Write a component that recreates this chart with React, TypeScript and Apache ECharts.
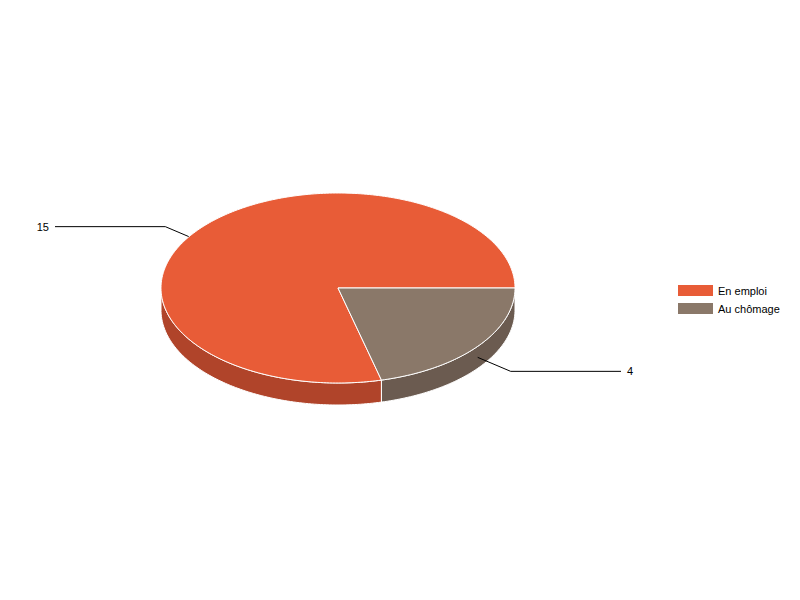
import React, { useEffect, useRef } from "react";
import * as echarts from "echarts";

const categories = ["En emploi", "Au chômage"];
const values = [15, 4];
const topColors = ["#E85C37", "#8A7869"];
const sideColors = ["#B0442A", "#6B5B50"];

const CX = 338;
const CY = 288;
const RX = 177;
const RY = 95;
const DEPTH = 22;
const FONT = "Liberation Sans, Arial, sans-serif";

function ellPt(tDeg: number, dy = 0): number[] {
  const t = (tDeg * Math.PI) / 180;
  return [CX + RX * Math.cos(t), CY + RY * Math.sin(t) + dy];
}

function arcPts(from: number, to: number, dy = 0): number[][] {
  const pts: number[][] = [];
  const n = Math.max(2, Math.ceil(Math.abs(to - from)));
  for (let k = 0; k <= n; k++) {
    pts.push(ellPt(from + ((to - from) * k) / n, dy));
  }
  return pts;
}

function makeRender(i: number) {
  return function renderItem() {
    const total = values.reduce((a, b) => a + b, 0);
    let before = 0;
    for (let k = 0; k < i; k++) before += values[k];
    const a0 = (-before / total) * 360;
    const a1 = (-(before + values[i]) / total) * 360;
    const lo = Math.min(a0, a1);
    const hi = Math.max(a0, a1);
    const children: any[] = [];
    // side faces (front half only)
    for (let k = -2; k <= 2; k++) {
      const s = Math.max(lo, k * 360);
      const e = Math.min(hi, k * 360 + 180);
      if (e > s) {
        const pts = arcPts(s, e).concat(arcPts(e, s, DEPTH));
        children.push({
          type: "polygon",
          shape: { points: pts },
          style: { fill: sideColors[i], stroke: "#ffffff", lineWidth: 1 },
        });
      }
    }
    // label + leader line (drawn beneath the top face)
    const mid = (a0 + a1) / 2;
    const rad = (mid * Math.PI) / 180;
    const anchor = ellPt(mid, DEPTH / 2);
    const dir = Math.cos(rad) >= 0 ? 1 : -1;
    const vdir = Math.sin(rad) >= 0 ? 1 : -1;
    const elbow = [anchor[0] + dir * 33, anchor[1] + vdir * 14];
    const end = [CX + dir * 283, elbow[1]];
    children.push({
      type: "polyline",
      shape: { points: [anchor, elbow, end] },
      style: { stroke: "#000000", lineWidth: 1, fill: null },
    });
    children.push({
      type: "text",
      style: {
        text: String(values[i]),
        x: end[0] + dir * 6,
        y: end[1],
        fill: "#000000",
        fontSize: 11,
        fontFamily: FONT,
        align: dir > 0 ? "left" : "right",
        verticalAlign: "middle",
      },
    });
    // top face
    const topPts = [[CX, CY]].concat(arcPts(a0, a1));
    children.push({
      type: "polygon",
      shape: { points: topPts },
      style: { fill: topColors[i], stroke: "#ffffff", lineWidth: 1, lineJoin: "round" },
    });
    return { type: "group", children };
  };
}

export default function App() {
  const ref = useRef<HTMLDivElement>(null);
  useEffect(() => {
    if (!ref.current) return;
    const chart = echarts.init(ref.current, null, { renderer: "svg" });
    chart.setOption({
      animation: false,
      backgroundColor: "#ffffff",
      legend: {
        orient: "vertical",
        left: 673,
        top: 280,
        itemWidth: 35,
        itemHeight: 11,
        itemGap: 7,
        icon: "rect",
        data: categories,
        textStyle: { fontSize: 11, fontFamily: FONT, color: "#000000" },
      },
      series: categories.map((name, i) => ({
        type: "custom",
        name,
        coordinateSystem: "none",
        itemStyle: { color: topColors[i] },
        data: [values[i]],
        renderItem: makeRender(i),
        silent: true,
      })),
    });
    return () => chart.dispose();
  }, []);
  return (
    <div
      ref={ref}
      style={{ position: "fixed", left: 0, top: 0, width: 800, height: 600 }}
    />
  );
}
